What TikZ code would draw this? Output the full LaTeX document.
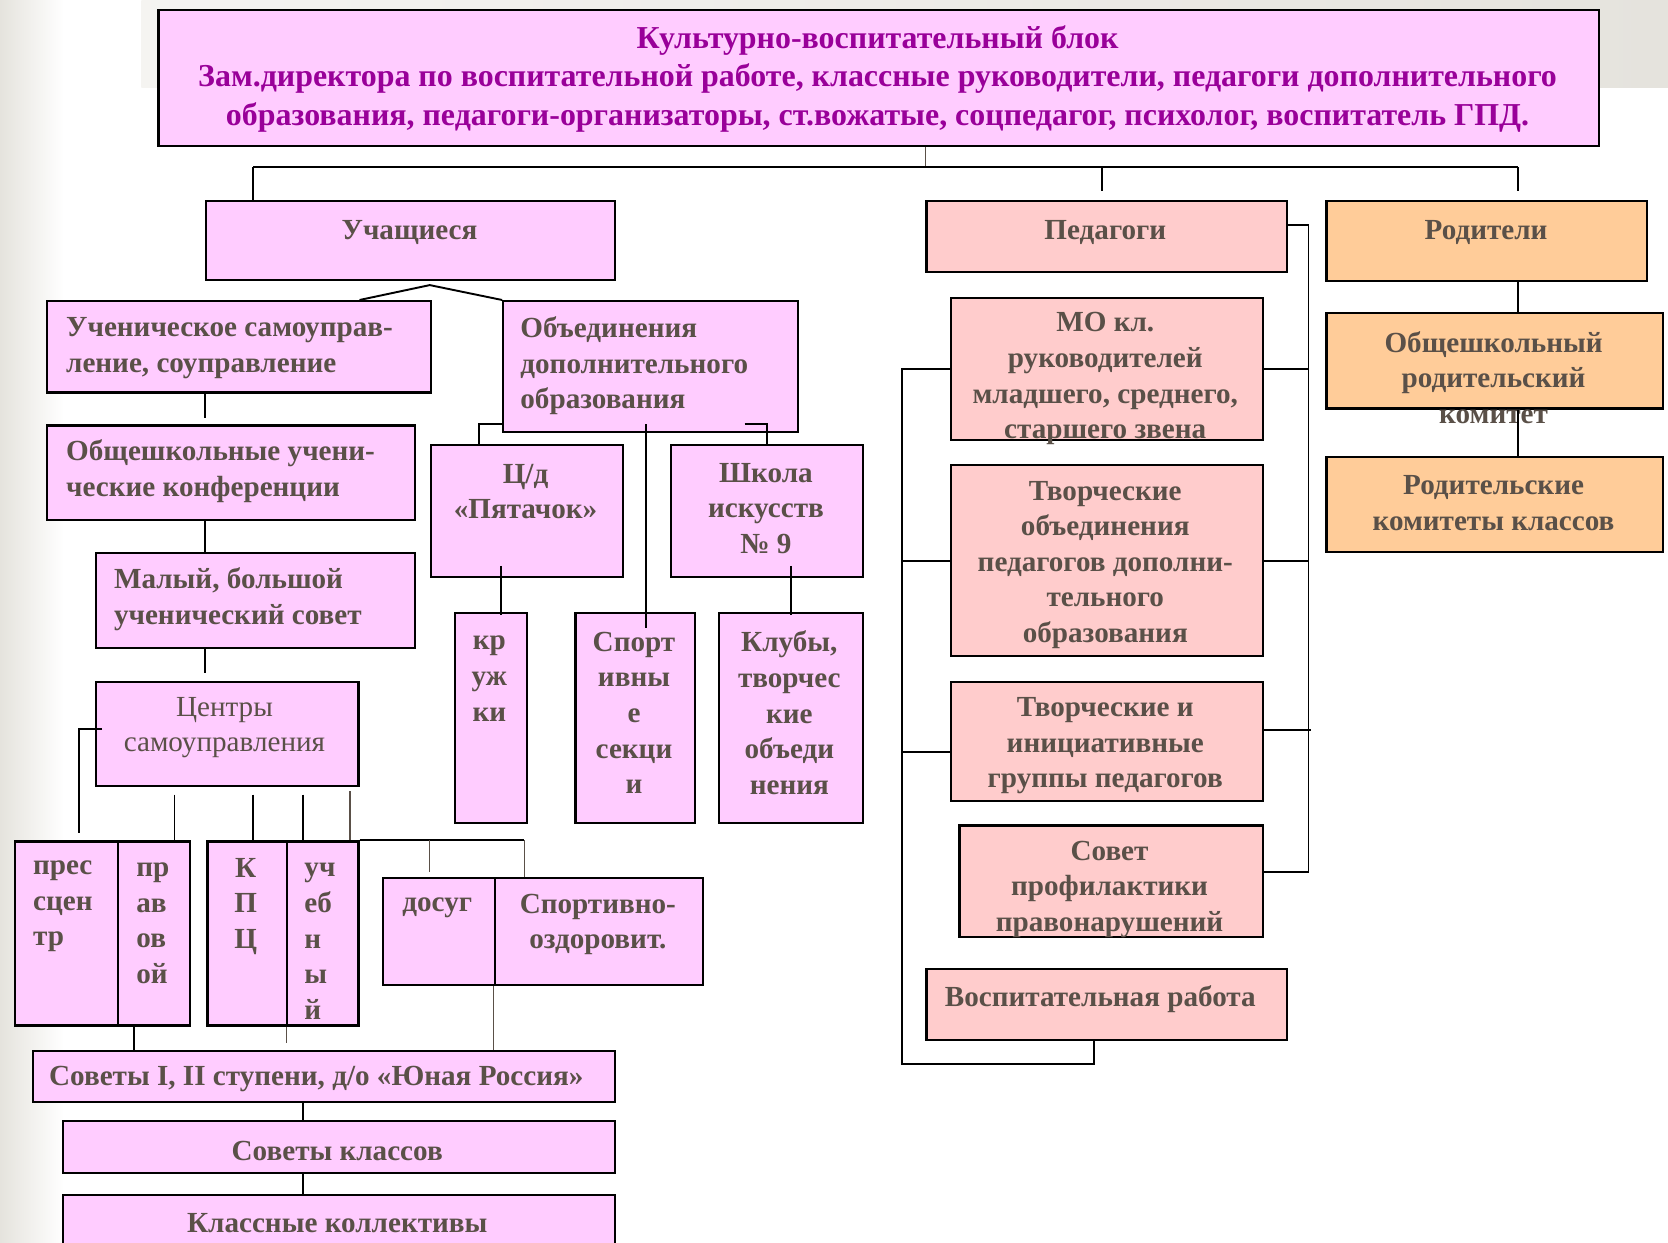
\documentclass[tikz,border=0pt]{standalone}
\usepackage{fontspec}
\setmainfont{Liberation Serif}
\usetikzlibrary{positioning}

\definecolor{lilac}{RGB}{255,204,255}
\definecolor{rose}{RGB}{255,204,204}
\definecolor{peach}{RGB}{255,204,153}
\definecolor{ink}{RGB}{90,80,72}
\definecolor{plum}{RGB}{153,0,153}
\definecolor{band}{RGB}{229,227,221}

\begin{document}
\begin{tikzpicture}[x=1pt,y=-1pt]
\tikzstyle{every node}+=[inner sep=0pt]
\tikzstyle{box}=[draw=black, line width=2pt, anchor=north west]
\tikzstyle{lbox}=[box, fill=lilac]
\tikzstyle{rbox}=[box, fill=rose]
\tikzstyle{pbox}=[box, fill=peach]
\tikzstyle{word}=[text=ink, font=\bfseries\fontsize{27.4}{33.5}\selectfont, align=center, yshift=-3pt]
\tikzstyle{lword}=[word, align=left, anchor=west]
\tikzstyle{link}=[line width=1.8pt]
\tikzstyle{thinlink}=[line width=1pt, draw=ink]
\useasboundingbox (0,0) rectangle (1568,1168);
\clip (0,0) rectangle (1568,1168);
% background
\shade[left color=band, right color=white] (0,0) rectangle (60,1168);
\shade[left color=band!40, right color=band] (133,0) rectangle (1568,82);
% head
\node[lbox, minimum width=1354pt, minimum height=128pt, line width=2.5pt] (head) at (148,8) {};
\node[word, text=plum, font=\bfseries\fontsize{30}{36}\selectfont] (headT) at (825,71) {Культурно-воспитательный блок\\Зам.директора по воспитательной работе, классные руководители, педагоги дополнительного\\образования, педагоги-организаторы, ст.вожатые, соцпедагог, психолог, воспитатель ГПД.};
% three groups
\node[lbox, minimum width=384pt, minimum height=74pt] (uch) at (193,188) {};
\node[word] (uchT) at (385,216) {Учащиеся};
\node[rbox, minimum width=339pt, minimum height=67pt] (ped) at (870,188) {};
\node[word] (pedT) at (1039,216) {Педагоги};
\node[pbox, minimum width=301pt, minimum height=75pt] (rod) at (1246,188) {};
\node[word] (rodT) at (1397,216) {Родители};
% pupils
\node[lbox, minimum width=361pt, minimum height=86pt] (samo) at (43,282) {};
\node[lword] (samoT) at (62,324) {Ученическое самоуправ-\\ление, соуправление};
\node[lbox, minimum width=277pt, minimum height=123pt] (obed) at (472,282) {};
\node[lword] (obedT) at (489,341) {Объединения\\дополнительного\\образования};
\node[lbox, minimum width=346pt, minimum height=89pt] (konf) at (43,399) {};
\node[lword] (konfT) at (62,440) {Общешкольные учени-\\ческие конференции};
\node[lbox, minimum width=300pt, minimum height=89pt] (sovet) at (89,519) {};
\node[lword] (sovetT) at (107,560) {Малый, большой\\ученический совет};
\node[lbox, minimum width=247pt, minimum height=98pt] (centr) at (89,640) {};
\node[word, font=\fontsize{27.4}{33.5}\selectfont] (centrT) at (211,681) {Центры\\самоуправления};
\node[lbox, minimum width=181pt, minimum height=124pt] (pyat) at (404,417) {};
\node[word] (pyatT) at (494,459) {Ц/д\\«Пятачок»};
\node[lbox, minimum width=180pt, minimum height=124pt] (shk) at (630,417) {};
\node[word] (shkT) at (720,475) {Школа\\искусств\\№ 9};
\node[lbox, minimum width=67pt, minimum height=198pt] (kruzh) at (427,575) {};
\node[word] (kruzhT) at (460,635) {кр\\уж\\ки};
\node[lbox, minimum width=112pt, minimum height=198pt] (sport) at (540,575) {};
\node[word] (sportT) at (596,667) {Спорт\\ивны\\е\\секци\\и};
\node[lbox, minimum width=135pt, minimum height=198pt] (klub) at (675,575) {};
\node[word] (klubT) at (742,667) {Клубы,\\творчес\\кие\\объеди\\нения};
\node[lbox, minimum width=97pt, minimum height=173pt] (press) at (13,790) {};
\node[lword] (pressT) at (31,849) {прес\\сцен\\тр};
\node[lbox, minimum width=68pt, minimum height=173pt] (prav) at (110,790) {};
\node[lword] (pravT) at (128,865) {пр\\ав\\ов\\ой};
\node[lbox, minimum width=75pt, minimum height=173pt] (kpc) at (194,790) {};
\node[word] (kpcT) at (231,849) {К\\П\\Ц};
\node[lbox, minimum width=67pt, minimum height=173pt] (ucheb) at (269,790) {};
\node[lword] (uchebT) at (286,882) {уч\\еб\\н\\ы\\й};
\node[lbox, minimum width=105pt, minimum height=101pt] (dosug) at (359,824) {};
\node[word] (dosugT) at (411,850) {досуг};
\node[lbox, minimum width=196pt, minimum height=101pt] (sportozd) at (464,824) {};
\node[word] (sportozdT) at (562,866) {Спортивно-\\оздоровит.};
\node[lbox, minimum width=547pt, minimum height=48pt] (sovI) at (30,987) {};
\node[lword] (sovIT) at (46,1011) {Советы I, II ступени, д/о «Юная Россия»};
\node[lbox, minimum width=519pt, minimum height=49pt] (sovkl) at (58,1053) {};
\node[word] (sovklT) at (317,1079) {Советы классов};
\node[lbox, minimum width=519pt, minimum height=60pt] (koll) at (58,1122) {};
\node[word] (kollT) at (317,1147) {Классные коллективы};
% teachers
\node[rbox, minimum width=293pt, minimum height=134pt] (mo) at (893,279) {};
\node[word] (moT) at (1039,353) {МО кл.\\руководителей\\младшего, среднего,\\старшего звена};
\node[rbox, minimum width=293pt, minimum height=180pt] (tvob) at (893,436) {};
\node[word] (tvobT) at (1039,528) {Творческие\\объединения\\педагогов дополни-\\тельного\\образования};
\node[rbox, minimum width=293pt, minimum height=112pt] (tvin) at (893,640) {};
\node[word] (tvinT) at (1039,698) {Творческие и\\инициативные\\группы педагогов};
\node[rbox, minimum width=285pt, minimum height=105pt] (prof) at (901,775) {};
\node[word] (profT) at (1043,833) {Совет\\профилактики\\правонарушений};
\node[rbox, minimum width=339pt, minimum height=67pt] (vosp) at (870,910) {};
\node[lword] (vospT) at (888,936) {Воспитательная работа};
% parents
\node[pbox, minimum width=316pt, minimum height=90pt] (obrod) at (1246,293) {};
\node[word] (obrodT) at (1404,352) {Общешкольный\\родительский\\комитет};
\node[pbox, minimum width=316pt, minimum height=89pt] (rodkl) at (1246,429) {};
\node[word] (rodklT) at (1404,470) {Родительские\\комитеты классов};

% top bus
\coordinate (hub) at (870,157);
\coordinate (busL) at (238,157);
\coordinate (busM) at (1036,157);
\coordinate (busR) at (1427,157);
\draw[thinlink] (head.south -| hub) -- (hub);
\draw[link] (busL) -- (busR);
\draw[link] (busL) -- (uch.north -| busL);
\draw[link, shorten >=8pt] (busM) -- (ped.north -| busM);
\draw[link, shorten >=8pt] (busR) -- (rod.north -| busR);
% pupils links
\coordinate (apex) at (404,268);
\draw[link] (samo.north -| 338,0) -- (apex) -- (obed.north west);
\draw[link, shorten >=6pt] (samo.south -| 193,0) -- (konf.north -| 193,0);
\draw[link] (konf.south -| 193,0) -- (sovet.north -| 193,0);
\draw[link, shorten >=7pt] (sovet.south -| 193,0) -- (centr.north -| 193,0);
\draw[link, shorten >=7pt] ([xshift=7pt, yshift=5pt]centr.west) -| (press.north -| 74,0);
\draw[link, shorten <=7pt] (centr.south -| 164,0) -- (prav.north -| 164,0);
\draw[link, shorten <=7pt] (centr.south -| 238,0) -- (kpc.north -| 238,0);
\draw[link, shorten <=7pt] (centr.south -| 285,0) -- (ucheb.north -| 285,0);
\draw[thinlink, shorten <=4pt] (centr.south -| 329,0) -- (ucheb.north -| 329,0);
\coordinate (leisure) at (493,790);
\draw[link] (ucheb.north east) -- (leisure);
\draw[thinlink] (leisure) -- (sportozd.north -| leisure);
\draw[thinlink, shorten >=4pt] (ucheb.north -| 404,0) -- (dosug.north -| 404,0);
\draw[link] (prav.south -| 126,0) -- (sovI.north -| 126,0);
\draw[thinlink, shorten >=7pt] (ucheb.south west) -- (sovI.north -| ucheb.south west);
\draw[thinlink] (sportozd.south west) -- (sovI.north -| sportozd.south west);
\draw[link] (sovI.south -| 285,0) -- (sovkl.north -| 285,0);
\draw[link] (sovkl.south -| 285,0) -- (koll.north -| 285,0);
% extra education links
\draw[link] ([yshift=8pt]obed.south west) -| (pyat.north -| 450,0);
\draw[link] (obed.south -| 607,0) ++(0,-8) -- (sport.north -| 607,0) -- ++(0,15);
\draw[link] ([xshift=-51pt, yshift=8pt]obed.south east) -| (shk.north);
\draw[link] (pyat.south -| 471,0) ++(0,-11) -- (kruzh.north -| 471,0) -- ++(0,3);
\draw[link] (shk.south -| klub.north) ++(0,-11) -- (klub.north) -- ++(0,3);
% teachers links
\coordinate (spineR) at (1230,0);
\coordinate (profR) at (1230,820);
\coordinate (lowL) at (848,1000);
\draw[link] ([yshift=11pt]ped.east) -| (profR) -- (profR -| prof.east);
\draw[link] (mo.east) -- (mo.east -| spineR);
\draw[link] (tvob.east) -- (tvob.east -| spineR);
\draw[link] ([yshift=11pt]tvin.east) -- +(44,0);
\draw[link] (mo.west) -- (mo.west -| lowL) -- (lowL) -| (vosp.south -| 1028,0);
\draw[link] (tvob.west) -- (tvob.west -| lowL);
\draw[link] ([yshift=-10pt]tvin.west) -- +(-45,0);
% parents links
\draw[link] (rod.south -| busR) -- (obrod.north -| busR);
\draw[link] (obrod.south -| busR) -- (rodkl.north -| busR);
\end{tikzpicture}
\end{document}
